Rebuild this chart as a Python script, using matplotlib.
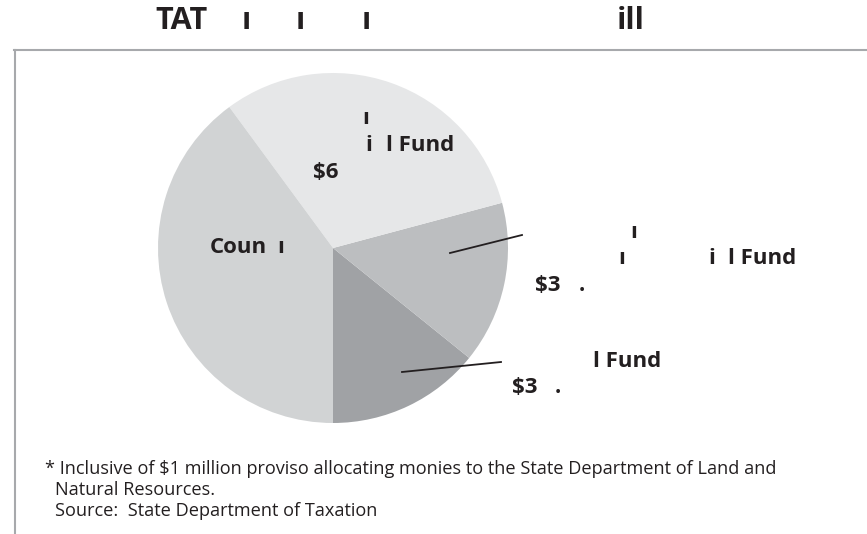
import matplotlib
matplotlib.use("Agg")
import matplotlib.pyplot as plt
from matplotlib.lines import Line2D

# slice values ($ millions), drawn counterclockwise from 6 o'clock
slice_names = ["Convention Center Fund", "Special Land Fund", "Tourism Special Fund", "Counties"]
slice_values = [31.3, 33.0, 68.2, 88.0]
slice_colors = ["#a0a2a5", "#bcbec0", "#e6e7e8", "#d1d3d4"]

# text fragments as they appear in the reference (x px, baseline y px, text)
title_parts = [(155, 29, "TAT"), (242, 29, "ı"), (296, 29, "ı"),
               (362, 29, "ı"), (617, 29, "ill")]
label_parts = [
    (362, 124, "ı"), (365, 151, "i"), (386, 151, "l Fund"), (313, 178, "$6"),
    (210, 253, "Coun"), (277, 253, "ı"),
    (630, 238, "ı"), (618, 264, "ı"), (708, 264, "i"), (728, 264, "l Fund"),
    (535, 291, "$3"), (579, 291, "."),
    (593, 367, "l Fund"), (512, 393, "$3"), (555, 393, "."),
]
footnote_lines = [
    (45, 474, "* Inclusive of $1 million proviso allocating monies to the State Department of Land and"),
    (55, 495, "Natural Resources."),
    (55, 516, "Source:  State Department of Taxation"),
]

W, H = 867, 534
TXT = "#231f20"
fig = plt.figure(figsize=(W / 100, H / 100), dpi=100)

def px(x, y):
    return x / W, 1 - y / H

# pie: centre (333, 248), radius 175 px
cx, cy, r = 333, 248, 175
ax = fig.add_axes([(cx - r) / W, (H - cy - r) / H, 2 * r / W, 2 * r / H])
ax.pie(slice_values, colors=slice_colors, startangle=-90, counterclock=True,
       radius=1, wedgeprops=dict(linewidth=0))
ax.set_xlim(-1, 1)
ax.set_ylim(-1, 1)
ax.set_aspect("equal")
ax.axis("off")

# leader lines (pixel offsets from pie centre, scaled to radius)
leaders = [((450, 253), (522, 235)), ((402, 372), (501, 362))]
for (x1, y1), (x2, y2) in leaders:
    ax.plot([(x1 - cx) / r, (x2 - cx) / r], [(cy - y1) / r, (cy - y2) / r],
            color=TXT, lw=1.3, clip_on=False)

for x, y, s in title_parts:
    fig.text(*px(x, y), s, fontsize=22, fontweight="bold", color=TXT,
             family="Open Sans", va="baseline", ha="left")

for x, y, s in label_parts:
    fig.text(*px(x, y), s, fontsize=16, fontweight="bold", color=TXT,
             family="Open Sans", va="baseline", ha="left")

for x, y, s in footnote_lines:
    fig.text(*px(x, y), s, fontsize=13.1, color=TXT, family="Open Sans",
             va="baseline", ha="left")

# frame lines
frame = "#a7a9ac"
fig.add_artist(Line2D([14 / W, 1], [1 - 50 / H, 1 - 50 / H], color=frame, lw=1.5))
fig.add_artist(Line2D([15 / W, 15 / W], [1 - 50 / H, 0], color=frame, lw=1.5))

fig.savefig("out.png", dpi=100)
